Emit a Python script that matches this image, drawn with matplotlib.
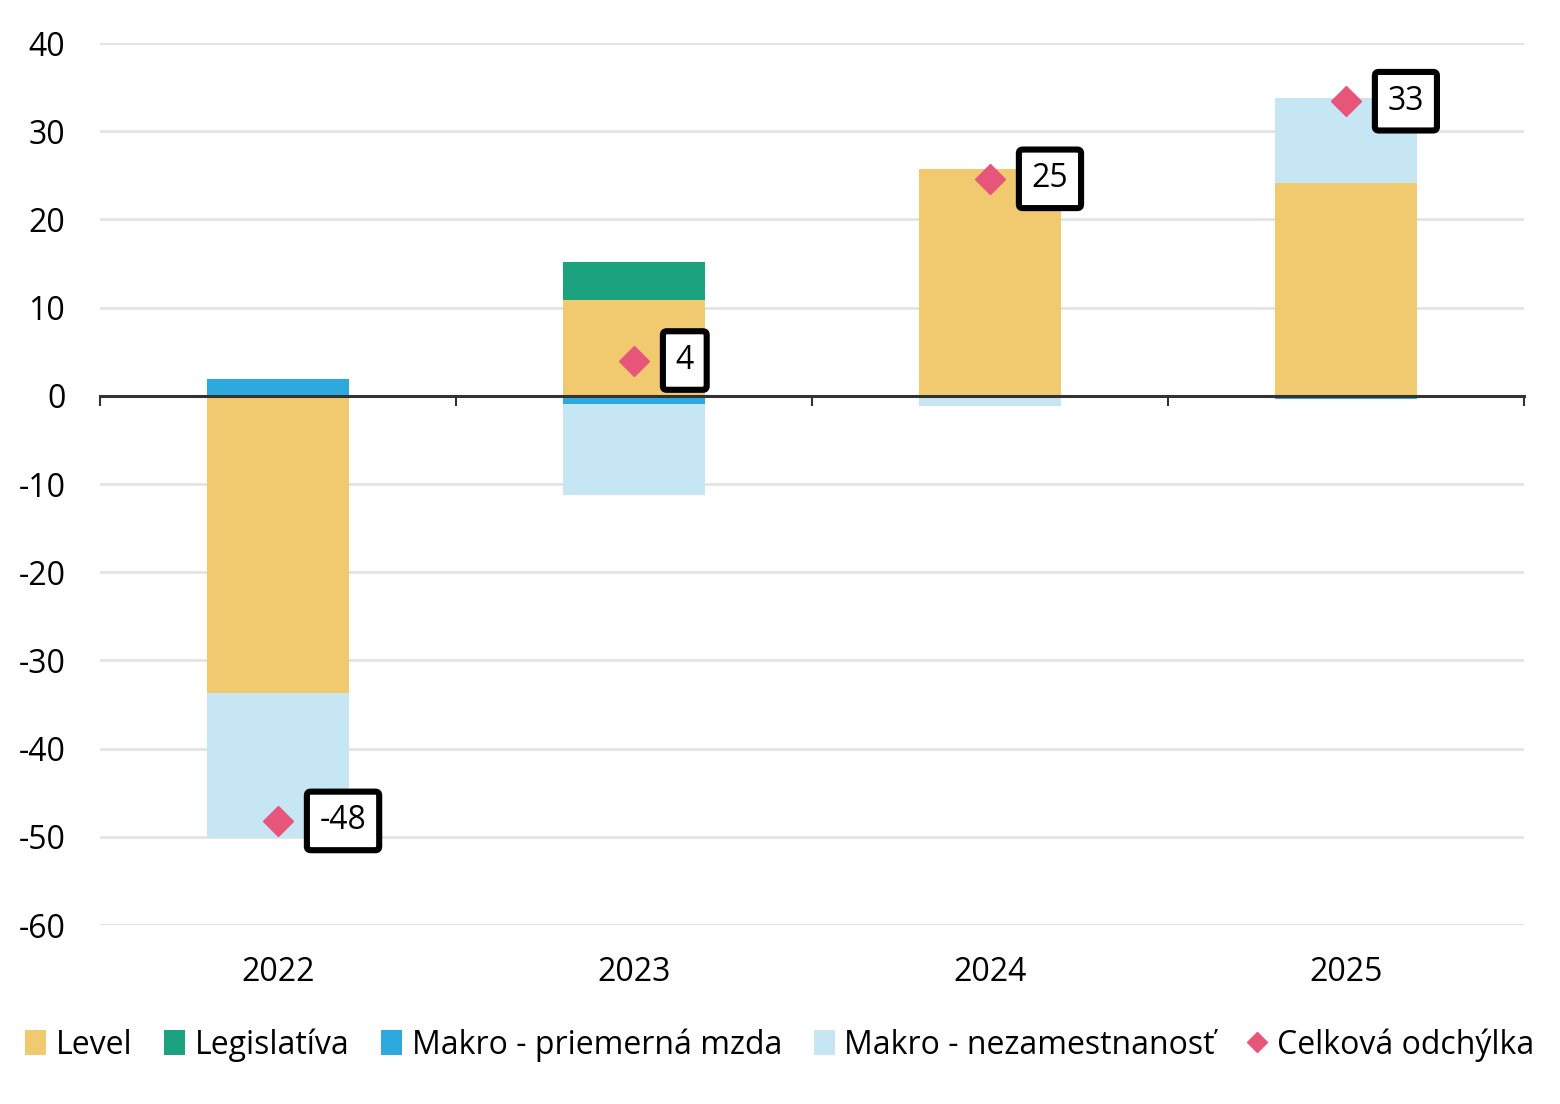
import matplotlib
matplotlib.use("Agg")
import matplotlib.pyplot as plt
import numpy as np
from matplotlib.patches import Patch
from matplotlib.lines import Line2D

plt.rcParams["font.family"] = ["Open Sans", "DejaVu Sans"]
plt.rcParams["axes.unicode_minus"] = False

# data
years = ["2022", "2023", "2024", "2025"]
level = [-33.7, 10.9, 25.7, 24.1]
legislativa = [0.0, 4.3, 0.0, 0.0]
mzda = [1.9, -0.9, 0.0, -0.4]
nezamestnanost = [-16.4, -10.3, -1.1, 9.7]
celkova = [-48.2, 4.0, 24.6, 33.4]

series = [
    ("Level", level, "#F1C96E"),
    ("Legislatíva", legislativa, "#1BA37F"),
    ("Makro - priemerná mzda", mzda, "#2EA9E0"),
    ("Makro - nezamestnanosť", nezamestnanost, "#C7E6F3"),
]
diamond_color = "#E8557A"
fs = 23

fig = plt.figure(figsize=(15.6, 11.04), dpi=100)
ax = fig.add_axes([100 / 1560, 1 - 925 / 1104, 1424 / 1560, 882 / 1104])

x = np.arange(len(years))
pos_base = np.zeros(len(years))
neg_base = np.zeros(len(years))
for name, vals, color in series:
    v = np.array(vals)
    bottom = np.where(v >= 0, pos_base, neg_base)
    ax.bar(x, v, bottom=bottom, width=0.4, color=color, zorder=2, linewidth=0)
    pos_base += np.where(v >= 0, v, 0)
    neg_base += np.where(v < 0, v, 0)

ax.plot(x, celkova, linestyle="none", marker="D", markersize=15,
        color=diamond_color, zorder=4)
for xi, val in zip(x, celkova):
    ax.annotate(f"{round(val):d}", (xi, val), xytext=(30, 0),
                textcoords="offset points", ha="left", va="center",
                fontsize=fs, zorder=5,
                bbox=dict(boxstyle="round,pad=0.4,rounding_size=0.12",
                          fc="white", ec="black", lw=4.4))

ax.set_xlim(-0.5, 3.5)
ax.set_ylim(-60, 40)
ax.set_yticks(np.arange(-60, 41, 10))
ax.yaxis.grid(True, color="#E3E3E3", linewidth=2, zorder=0)
ax.set_axisbelow(True)
for s in ["top", "right", "left"]:
    ax.spines[s].set_visible(False)

# zero line with category tick marks
ax.spines["bottom"].set_position(("data", 0))
ax.spines["bottom"].set_color("#333333")
ax.spines["bottom"].set_linewidth(2.2)
ax.spines["bottom"].set_zorder(3)
ax.set_xticks(np.arange(-0.5, 3.6, 1.0))
ax.set_xticklabels([])
ax.tick_params(axis="x", direction="out", length=7, width=1.5, color="#333333")
ax.tick_params(axis="y", length=0, pad=25, labelsize=fs)

# year labels at the bottom of the axes
sec = ax.secondary_xaxis(0.0)
sec.set_xticks(x)
sec.set_xticklabels(years)
sec.tick_params(length=0, pad=22, labelsize=fs)
sec.spines["bottom"].set_visible(False)

handles = [Patch(facecolor=c, edgecolor="none", label=n) for n, _, c in series]
handles.append(Line2D([], [], linestyle="none", marker="D", markersize=10,
                      color=diamond_color, label="Celková odchýlka"))
fig.legend(handles=handles, loc="center", bbox_to_anchor=(0.5, 1 - 1045 / 1104),
           ncol=5, frameon=False, fontsize=fs, handlelength=0.65,
           handleheight=0.8, handletextpad=0.3, columnspacing=1.0)

fig.savefig("out.png", dpi=100)
